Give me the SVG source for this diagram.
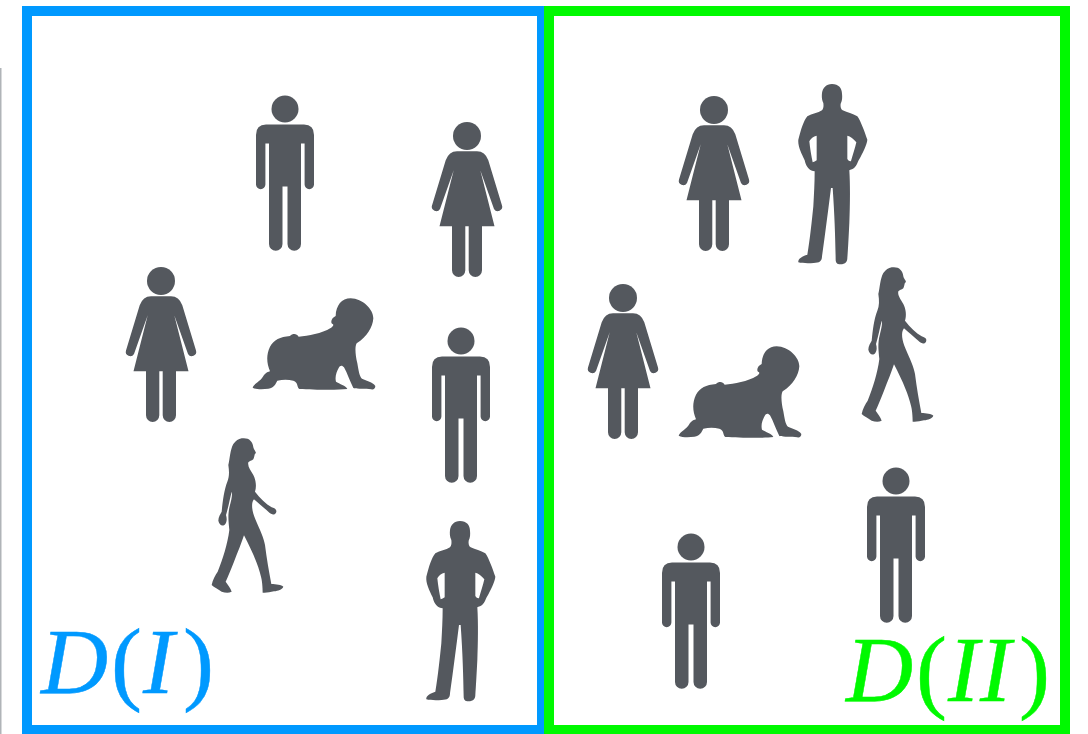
<svg xmlns="http://www.w3.org/2000/svg" xmlns:xlink="http://www.w3.org/1999/xlink" width="1088" height="734" viewBox="0 0 1088 734">
<style>
.fig{fill:#54585e;fill-rule:evenodd}
.lab{font-family:"Liberation Serif","Times New Roman",serif;font-size:93px;stroke-width:.45}
.it{font-style:italic}
.blue{fill:#0099ff;stroke:#0099ff}
.green{fill:#00f900;stroke:#00f900}
</style>
<defs>
<g id="man" class="fig">
<circle cx="0" cy="0" r="13.5"/>
<path d="M-19,15.5H19Q29,15.5 29,26V75.5A4.7,4.7 0 0 1 19.6,75.5V34.5H16V135A6.75,6.75 0 0 1 2.5,135V77.5H-2.5V135A6.75,6.75 0 0 1 -16,135V34.5H-19.6V75.5A4.7,4.7 0 0 1 -29,75.5V26Q-29,15.5 -19,15.5Z"/>
</g>
<g id="woman" class="fig">
<circle cx="0" cy="0" r="14"/>
<path d="M-10,15.3H10Q18,15.3 21.3,24.3L35,69.5A4.4,4.4 0 0 1 27,73L13.3,34.3L27.5,90.3H15V134.3A6.65,6.65 0 0 1 1.7,134.3V90.3H-1.7V134.3A6.65,6.65 0 0 1 -15,134.3V90.3H-27.5L-13.3,34.3L-27,73A4.4,4.4 0 0 1 -35,69.5L-21.3,24.3Q-18,15.3 -10,15.3Z"/>
</g>
<path id="baby" class="fig" transform="scale(.33333)" d="M287,108C288,76 305,55 332,55C368,56 400,88 400,115C398,142 382,170 350,190C344,200 346,225 352,250C356,272 358,290 366,296C380,303 398,305 406,318C406,326 400,330 394,328C375,324 355,328 340,324C330,305 322,280 312,262C306,254 300,256 296,264C290,275 284,290 288,305C298,312 318,316 322,327C290,331 220,329 178,327C170,322 175,306 160,302C145,298 128,298 112,302C106,312 104,322 85,326C70,328 50,329 38,323C42,310 62,305 72,285C78,278 85,275 90,274C80,250 78,225 90,200C102,180 120,170 150,168C158,160 170,160 176,170C205,168 245,160 272,144C280,138 282,134 278,132C270,128 274,114 287,108Z"/>
<path id="walker" class="fig" transform="scale(.33333)" d="M125,25C145,22 158,32 160,52C161,60 170,66 167,70C162,73 164,82 160,88C155,92 148,94 145,97C142,108 152,122 160,135C168,150 170,170 165,185C180,205 198,222 215,232C225,235 232,240 228,248C224,256 215,255 205,245C190,232 175,220 162,208C152,220 156,245 167,270C180,300 192,325 195,345C200,385 207,425 214,462C228,462 245,465 250,470C245,480 235,482 222,484C210,487 198,489 188,488C188,470 186,450 183,440C176,410 160,370 132,316C124,340 114,365 102,395C92,420 84,440 77,455C84,465 92,475 95,485C85,490 75,488 65,485C55,478 42,472 35,465C38,450 46,435 53,425C68,390 83,340 88,300C86,275 82,255 90,225C93,212 98,195 95,185C90,205 84,235 78,255C81,265 81,275 76,282C68,292 58,285 55,272C55,260 62,252 65,245C68,215 72,180 82,155C88,140 88,125 85,105C90,85 90,60 100,42C108,32 115,27 125,25Z"/>
<path id="standing" class="fig" transform="scale(.33333)" d="M150,33C170,33 180,46 180,62C181,72 181,82 176,92C175,100 176,108 182,112C196,118 212,122 226,130C237,145 247,175 256,200C255,215 242,240 230,262C224,275 220,288 205,290L202,292C205,340 204,400 202,450C200,490 198,530 196,555C196,565 191,574 175,574C165,574 161,568 161,560C160,500 158,430 152,345L147,345C140,400 130,480 120,550C120,565 112,570 95,570C80,571 60,571 49,568C47,558 60,550 76,545C84,500 90,440 94,400C96,365 98,330 98,295C85,295 73,285 68,262C58,240 47,220 49,200C57,170 64,145 76,130C90,122 108,120 120,112C125,106 125,98 124,90C119,80 119,70 120,60C122,45 132,33 150,33ZM82,205C84,225 88,250 92,268C96,267 100,265 104,262C104,240 104,212 104,188C94,190 86,197 82,205ZM196,188C196,215 196,240 196,258C200,264 204,266 207,264C213,245 219,225 223,208C215,198 205,190 196,188Z"/>
</defs>
<rect x="0" y="68" width="1.5" height="666" fill="#b0b4b8"/>
<g id="frame-d1"><rect x="27" y="11" width="515" height="719" fill="#fff" stroke="#0099ff" stroke-width="10"/></g>
<g id="frame-d2"><rect x="549" y="11" width="516" height="719" fill="#fff" stroke="#00f900" stroke-width="10"/></g>
<g id="connectors"></g>
<g id="d1-man-1"><use href="#man" x="285" y="109"/></g>
<g id="d1-woman-1"><use href="#woman" x="467" y="136"/></g>
<g id="d1-woman-2"><use href="#woman" x="161" y="281"/></g>
<g id="d1-baby"><use href="#baby" transform="translate(240,280)"/></g>
<g id="d1-man-2"><use href="#man" x="461" y="341"/></g>
<g id="d1-walker"><use href="#walker" transform="translate(200,430)"/></g>
<g id="d1-standing"><use href="#standing" transform="translate(410,510)"/></g>
<g id="d2-woman-1"><use href="#woman" x="714" y="110"/></g>
<g id="d2-standing"><use href="#standing" transform="translate(782,73)"/></g>
<g id="d2-woman-2"><use href="#woman" x="623" y="298"/></g>
<g id="d2-baby"><use href="#baby" transform="translate(666,328)"/></g>
<g id="d2-walker"><use href="#walker" transform="translate(850,259)"/></g>
<g id="d2-man-1"><use href="#man" x="896" y="481"/></g>
<g id="d2-man-2"><use href="#man" x="691" y="547"/></g>
<g id="label-d1" class="lab blue"><text y="692.5"><tspan class="it" x="41">D</tspan><tspan x="111">(</tspan><tspan class="it" x="143">I</tspan><tspan x="183">)</tspan></text></g>
<g id="label-d2" class="lab green"><text y="700.5"><tspan class="it" x="846">D</tspan><tspan x="916">(</tspan><tspan class="it" x="948">I</tspan><tspan class="it" x="980">I</tspan><tspan x="1019">)</tspan></text></g>
</svg>
